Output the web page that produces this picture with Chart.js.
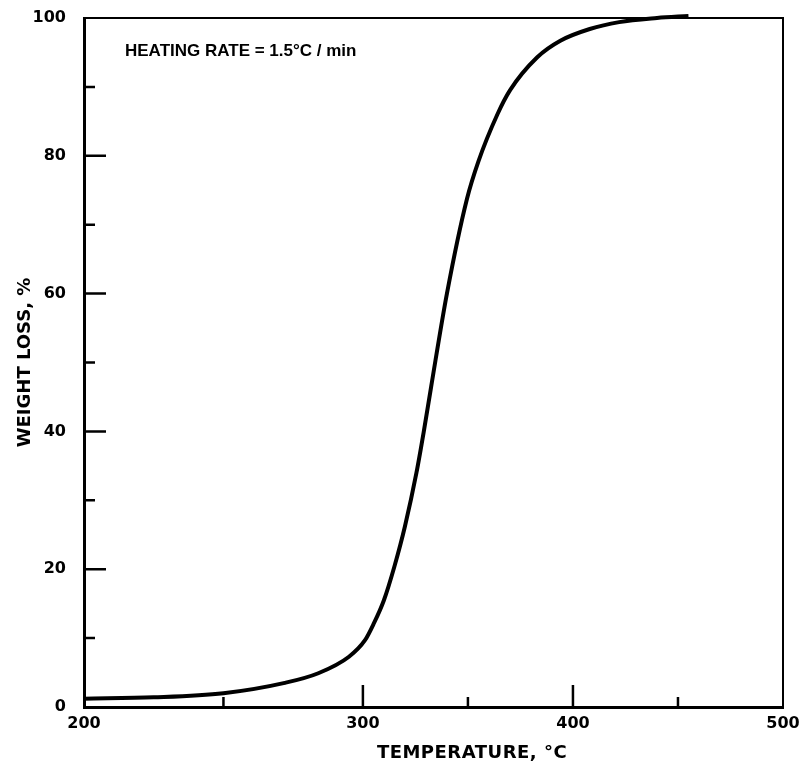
<!DOCTYPE html>
<html>
<head>
<meta charset="utf-8">
<script src="https://cdn.jsdelivr.net/npm/chart.js@4"></script>
<style>
  html, body { margin: 0; padding: 0; background: #fff; }
</style>
</head>
<body>
<canvas id="chart" width="803" height="765"></canvas>
<script>
var temperature = [200, 225, 250, 272, 284, 295, 301, 305, 310, 315, 320, 325.5, 329, 332.5, 340, 349.5, 355, 364, 370, 383, 394, 408, 422, 440, 455];
var weightLoss = [1.2, 1.4, 2.0, 3.5, 4.9, 7.3, 9.7, 12.0, 15.5, 20.4, 26.2, 34, 40, 46.5, 60, 73.7, 79.2, 86, 89.5, 94.3, 96.7, 98.4, 99.4, 100, 100.3];
var xTicks = [200, 250, 300, 350, 400, 450, 500];
var yTicks = [0, 10, 20, 30, 40, 50, 60, 70, 80, 90, 100];
var note = 'HEATING RATE = 1.5°C / min';
var xTitle = 'TEMPERATURE, °C';
var yTitle = 'WEIGHT LOSS, %';

// the printed temperature axis is not uniform: 200-300 is drawn wider than 300-500
var BREAK_AT = 300;
var BREAK_FRAC = 0.399;

class BrokenScale extends Chart.LinearScale {
  getPixelForValue(value) {
    var f;
    if (value <= BREAK_AT) {
      f = (value - this.min) / (BREAK_AT - this.min) * BREAK_FRAC;
    } else {
      f = BREAK_FRAC + (value - BREAK_AT) / (this.max - BREAK_AT) * (1 - BREAK_FRAC);
    }
    return this.getPixelForDecimal(f);
  }
  getValueForPixel(pixel) {
    var f = this.getDecimalForPixel(pixel);
    if (f <= BREAK_FRAC) {
      return this.min + f / BREAK_FRAC * (BREAK_AT - this.min);
    }
    return BREAK_AT + (f - BREAK_FRAC) / (1 - BREAK_FRAC) * (this.max - BREAK_AT);
  }
}
BrokenScale.id = 'broken';
BrokenScale.defaults = Chart.LinearScale.defaults;
Chart.register(BrokenScale);

Chart.defaults.font.family = 'DejaVu Sans';
Chart.defaults.color = '#000';

var frame = {
  id: 'frame',
  afterDraw(chart) {
    var ctx = chart.ctx;
    var a = chart.chartArea;
    var xs = chart.scales.x;
    var ys = chart.scales.y;
    ctx.save();
    ctx.strokeStyle = '#000';

    // top and right edges of the box
    ctx.lineWidth = 2;
    ctx.beginPath();
    ctx.moveTo(a.left, a.top);
    ctx.lineTo(a.right, a.top);
    ctx.lineTo(a.right, a.bottom);
    ctx.stroke();

    // inward tick marks
    ctx.lineWidth = 2.5;
    ctx.beginPath();
    yTicks.forEach((v) => {
      if (v === 0 || v === 100) return;
      var y = ys.getPixelForValue(v);
      var len = v % 20 === 0 ? 22 : 11;
      ctx.moveTo(a.left, y);
      ctx.lineTo(a.left + len, y);
    });
    xTicks.forEach((v) => {
      if (v === 200 || v === 500) return;
      var x = xs.getPixelForValue(v);
      var len = v % 100 === 0 ? 22 : 10;
      ctx.moveTo(x, a.bottom);
      ctx.lineTo(x, a.bottom - len);
    });
    ctx.stroke();

    ctx.fillStyle = '#000';
    ctx.textBaseline = 'middle';
    ctx.textAlign = 'left';
    ctx.font = 'bold 17px "Liberation Sans"';
    ctx.fillText(note, 125, 51);

    ctx.font = 'bold 18px "DejaVu Sans"';
    ctx.letterSpacing = '0.5px';
    ctx.textAlign = 'center';
    ctx.fillText(xTitle, 472, 753);
    ctx.restore();
  }
};

var chart = new Chart(document.getElementById('chart'), {
  type: 'line',
  data: {
    datasets: [{
      data: temperature.map((t, i) => ({x: t, y: weightLoss[i]})),
      borderColor: '#000',
      borderWidth: 4,
      pointRadius: 0,
      fill: false,
      cubicInterpolationMode: 'monotone',
      clip: false
    }]
  },
  options: {
    responsive: false,
    animation: false,
    layout: {padding: {top: 18, right: 20, left: 0, bottom: 0}},
    plugins: {
      legend: {display: false},
      tooltip: {enabled: false}
    },
    scales: {
      x: {
        type: 'broken',
        min: 200,
        max: 500,
        afterFit: (s) => {
          s.height = 58;
          s.paddingLeft = 0;
          s.paddingRight = 0;
        },
        afterBuildTicks: (s) => { s.ticks = xTicks.map((v) => ({value: v})); },
        grid: {display: false, drawTicks: false},
        border: {display: true, color: '#000', width: 3},
        ticks: {
          padding: 7,
          maxRotation: 0,
          autoSkip: false,
          font: {size: 16, weight: 'bold'},
          callback: (v) => (v % 100 === 0 ? String(v) : '')
        }
      },
      y: {
        type: 'linear',
        min: 0,
        max: 100,
        afterFit: (s) => {
          s.width = 84;
          s.paddingTop = 0;
          s.paddingBottom = 0;
        },
        afterBuildTicks: (s) => { s.ticks = yTicks.map((v) => ({value: v})); },
        grid: {display: false, drawTicks: false},
        border: {display: true, color: '#000', width: 3},
        title: {
          display: true,
          text: yTitle,
          font: {size: 18, weight: 'bold'},
          padding: {top: 15, bottom: 0}
        },
        ticks: {
          padding: 18,
          autoSkip: false,
          font: {size: 16, weight: 'bold'},
          callback: (v) => (v % 20 === 0 ? String(v) : '')
        }
      }
    }
  },
  plugins: [frame]
});
</script>
</body>
</html>
